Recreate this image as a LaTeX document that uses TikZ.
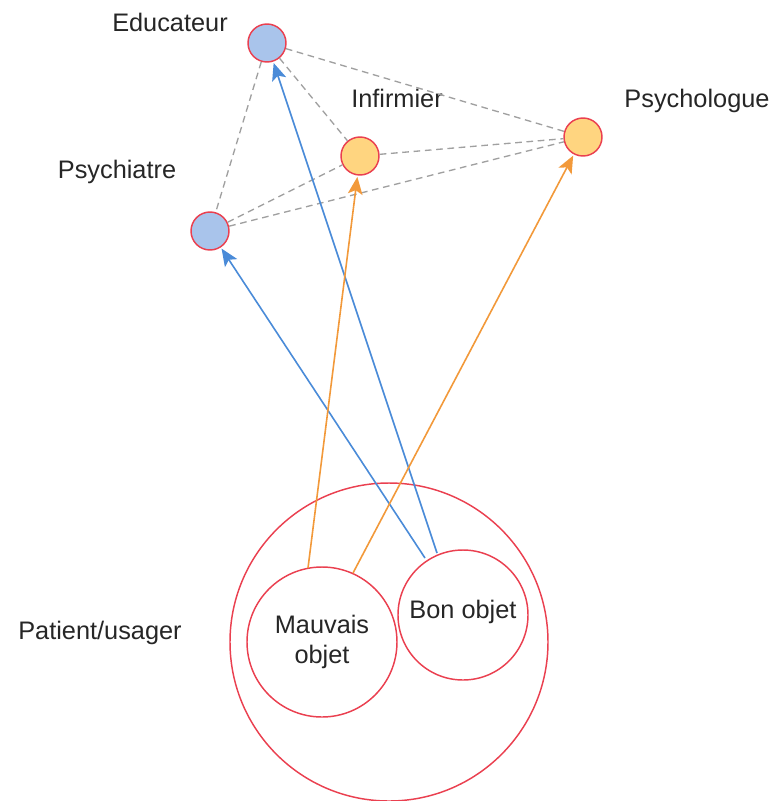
\documentclass[tikz,border=0pt]{standalone}
\usepackage{fontspec}
\setmainfont{Liberation Sans}
\usetikzlibrary{arrows.meta}
\definecolor{rd}{HTML}{EA4050}
\definecolor{bfill}{HTML}{A9C4EB}
\definecolor{ofill}{HTML}{FFD580}
\definecolor{bl}{HTML}{4A8BD8}
\definecolor{or}{HTML}{F2993A}
\definecolor{dg}{HTML}{A0A0A0}
\tikzset{
  role/.style={circle, draw=rd, line width=1.1pt, minimum size=28.5pt, inner sep=0pt},
  obj/.style={circle, draw=rd, line width=1.1pt, inner sep=0pt, align=center, text=black!85, font=\fontsize{19}{23}\selectfont},
  lbl/.style={font=\fontsize{19}{23}\selectfont, text=black!85},
  link/.style={draw=dg, line width=1pt, dash pattern=on 5pt off 3.5pt},
  tip/.style={-{Stealth[length=13pt,width=11pt,inset=3pt]}},
  barrow/.style={draw=bl, line width=1.2pt, tip},
  oarrow/.style={draw=or, line width=1.2pt, tip},
}
\begin{document}
\begin{tikzpicture}[x=0.75pt,y=-0.75pt]
\useasboundingbox (0,0) rectangle (775,801);
% big circle
\node[obj, minimum size=238.5pt] (patient) at (389,642) {};
\node[obj, minimum size=112.5pt] (mauvais) at (322,642) {Mauvais\\objet};
\node[obj, minimum size=97.5pt] (bon) at (463,615) {};
\node[lbl] (bontxt) at (463,612) {Bon objet};
% role circles
\node[role, fill=bfill] (edu) at (267,43) {};
\node[role, fill=ofill] (inf) at (360,156) {};
\node[role, fill=ofill] (psyl) at (583,137) {};
\node[role, fill=bfill] (psyc) at (210,231) {};
% labels
\node[lbl] (edul) at (170,22) {Educateur};
\node[lbl] (infl) at (397,98) {Infirmier};
\node[lbl] (psyll) at (697,101) {Psychologue};
\node[lbl] (psycl) at (117,172) {Psychiatre};
\node[lbl] (patl) at (100,633) {Patient/usager};
% dashed links
\draw[link] (edu) -- (psyc);
\draw[link] (edu) -- (inf);
\draw[link] (edu) -- (psyl);
\draw[link] (psyc) -- (inf);
\draw[link] (psyc) -- (psyl);
\draw[link] (inf) -- (psyl);
% arrows
\coordinate (b1) at (425,558);
\coordinate (b2) at (437,553);
\coordinate (m1) at (308,568);
\coordinate (m2) at (353,573);
\draw[barrow, shorten >=1pt] (b1) -- (psyc);
\draw[barrow, shorten >=1pt] (b2) -- (edu);
\draw[oarrow, shorten >=1pt] (m1) -- (inf);
\draw[oarrow, shorten >=1pt] (m2) -- (psyl);
\end{tikzpicture}
\end{document}
